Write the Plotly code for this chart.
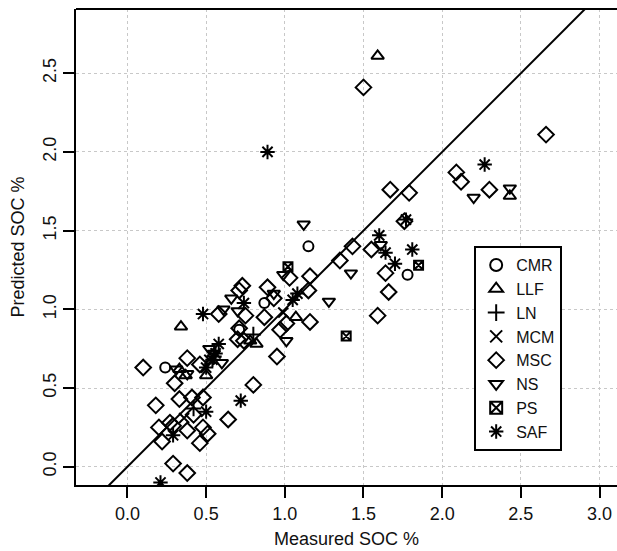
import plotly.graph_objects as go

# ---- data (Measured SOC %, Predicted SOC %) per group ----
cmr_x = [0.24, 0.87, 1.15, 1.78, 0.71]
cmr_y = [0.63, 1.04, 1.40, 1.22, 0.87]

llf_x = [1.59, 0.34, 1.07, 0.82, 2.43, 0.50, 0.37, 0.33, 0.78]
llf_y = [2.61, 0.89, 0.95, 0.78, 1.72, 0.58, 0.58, 0.62, 0.80]

ln_x = [0.42, 0.55, 0.80]
ln_y = [0.37, 0.70, 0.84]

mcm_x = [0.99, 0.36, 0.52]
mcm_y = [0.98, 0.31, 0.68]

msc_x = [1.50, 2.66, 2.09, 2.12, 2.30, 1.67, 1.79, 1.76, 1.43, 1.55, 1.35, 1.64,
         1.66, 1.59, 1.16, 1.03, 1.15, 1.16, 0.93, 0.89, 0.87, 1.01, 0.97, 0.95,
         0.80, 0.73, 0.71, 0.75, 0.58, 0.71, 0.70, 0.74, 0.64, 0.38, 0.46, 0.10,
         0.18, 0.33, 0.41, 0.48, 0.20, 0.22, 0.29, 0.38, 0.48, 0.46, 0.51, 0.29,
         0.38, 0.42, 0.30, 0.27]
msc_y = [2.41, 2.11, 1.87, 1.81, 1.76, 1.76, 1.74, 1.56, 1.40, 1.38, 1.31, 1.23,
         1.11, 0.96, 1.21, 1.20, 1.12, 0.92, 1.07, 1.14, 0.95, 0.91, 0.87, 0.70,
         0.52, 1.15, 1.12, 0.96, 0.97, 0.88, 0.81, 0.80, 0.30, 0.69, 0.65, 0.63,
         0.39, 0.43, 0.44, 0.44, 0.25, 0.16, 0.26, 0.23, 0.25, 0.15, 0.21, 0.02,
         -0.04, 0.33, 0.53, 0.28]

ns_x = [1.12, 0.93, 0.99, 1.28, 1.42, 2.20, 2.43, 1.61, 1.01, 0.61, 0.66, 0.70,
        0.38, 0.55, 0.60, 0.31, 0.52]
ns_y = [1.54, 1.10, 1.22, 1.05, 1.23, 1.71, 1.77, 1.41, 0.80, 1.00, 1.07, 0.99,
        0.59, 0.72, 0.66, 0.62, 0.75]

ps_x = [1.02, 1.39, 1.85]
ps_y = [1.27, 0.83, 1.28]

saf_x = [0.89, 2.27, 1.77, 1.60, 1.64, 1.70, 1.81, 0.48, 0.74, 0.58, 0.54, 0.50,
         0.72, 0.50, 0.29, 0.21, 1.05, 1.08, 0.56]
saf_y = [2.00, 1.92, 1.57, 1.47, 1.36, 1.29, 1.38, 0.97, 1.04, 0.78, 0.68, 0.63,
         0.42, 0.35, 0.20, -0.10, 1.06, 1.10, 0.72]

groups = ["CMR", "LLF", "LN", "MCM", "MSC", "NS", "PS", "SAF"]
xs = [cmr_x, llf_x, ln_x, mcm_x, msc_x, ns_x, ps_x, saf_x]
ys = [cmr_y, llf_y, ln_y, mcm_y, msc_y, ns_y, ps_y, saf_y]
symbols = ["circle-open", "triangle-up-open", "cross-thin-open", "x-thin-open",
           "diamond-open", "triangle-down-open", "square-x-open", "asterisk-open"]
sizes = [10, 11, 11, 10, 12, 11, 9, 12]

x_ticks = [0.0, 0.5, 1.0, 1.5, 2.0, 2.5, 3.0]
y_ticks = [0.0, 0.5, 1.0, 1.5, 2.0, 2.5]
ref_line = [-0.5, 3.5]

FONT = "Liberation Sans, Arial, Helvetica, sans-serif"

fig = go.Figure()
fig.add_trace(go.Scatter(x=ref_line, y=ref_line, mode="lines",
                         line=dict(color="black", width=2), showlegend=False,
                         hoverinfo="skip"))
for name, gx, gy, sym, sz in zip(groups, xs, ys, symbols, sizes):
    fig.add_trace(go.Scatter(
        x=gx, y=gy, mode="markers", name=name,
        marker=dict(symbol=sym, size=sz, color="black",
                    line=dict(color="black", width=2)),
    ))

axis_common = dict(
    showgrid=True, gridcolor="#c8c8c8", griddash="dot", gridwidth=1,
    zeroline=False, showline=True, linecolor="black", linewidth=2,
    ticks="outside", ticklen=11, tickwidth=2, tickcolor="black",
    tickfont=dict(family=FONT, size=18, color="#111"),
    tickformat=".1f",
)

fig.update_layout(
    width=617, height=551,
    margin=dict(l=76, r=0, t=9, b=66),
    plot_bgcolor="white", paper_bgcolor="white",
    font=dict(family=FONT, size=18, color="#111"),
    xaxis=dict(range=[-0.327, 3.111], tickvals=x_ticks,
               title=dict(text="Measured SOC %", font=dict(size=18), standoff=10),
               **axis_common),
    yaxis=dict(range=[-0.116, 2.908], tickvals=y_ticks, tickangle=-90,
               title=dict(text="Predicted SOC %", font=dict(size=18), standoff=10),
               **axis_common),
    legend=dict(x=0.736, y=0.502, xanchor="left", yanchor="top",
                bordercolor="black", borderwidth=2, bgcolor="white",
                font=dict(family=FONT, size=16, color="#111"),
                tracegroupgap=0, itemsizing="constant"),
    shapes=[dict(type="line", xref="paper", yref="paper", x0=0, x1=1, y0=1, y1=1,
                 line=dict(color="black", width=2))],
)

fig.write_html("out.html", config={"displayModeBar": False},
               post_script="document.body.style.margin='0';document.body.style.overflow='hidden';")
